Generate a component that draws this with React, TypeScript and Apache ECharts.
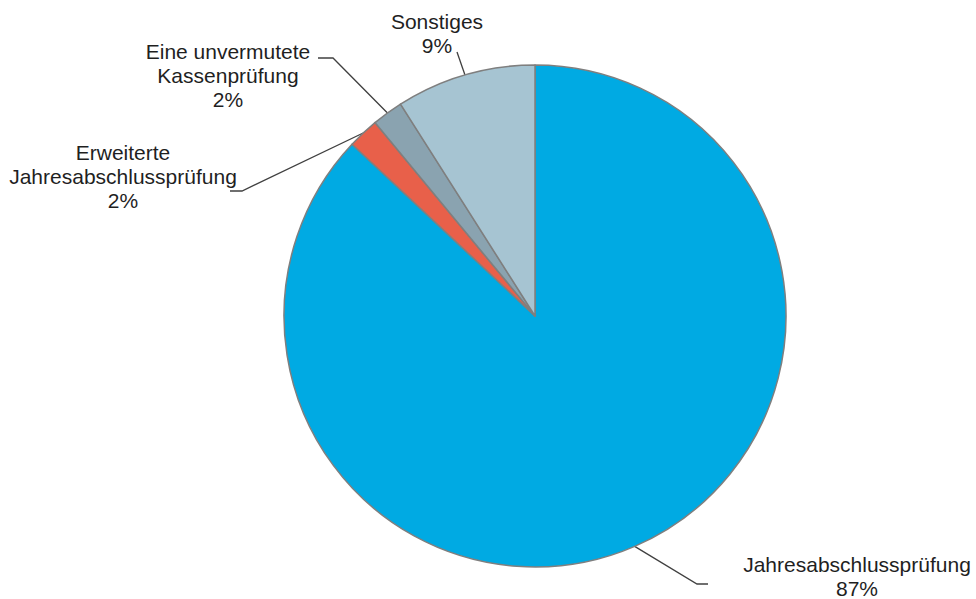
import React, { useEffect, useRef } from "react";
import * as echarts from "echarts";

const categories = [
  "Jahresabschlussprüfung",
  "Erweiterte\nJahresabschlussprüfung",
  "Eine unvermutete\nKassenprüfung",
  "Sonstiges",
];
const values = [87, 2, 2, 9];
const colors = ["#00AAE3", "#E8604A", "#8AA3B0", "#A6C4D2"];

// label layout (text centre, line elbow, line end) per slice
const labelPos = [
  { x: 857, y: 576, elbow: [697, 584], end: [708, 584] },
  { x: 123, y: 176, elbow: [242, 191], end: [230, 191] },
  { x: 228, y: 75, elbow: [333, 58], end: [318, 58] },
  { x: 437, y: 33, elbow: [457, 52], end: [457, 52] },
];

export default function App() {
  const ref = useRef<HTMLDivElement>(null);
  useEffect(() => {
    document.body.style.margin = "0";
    const chart = echarts.init(ref.current!, undefined, { renderer: "svg" });
    chart.setOption({
      animation: false,
      backgroundColor: "#ffffff",
      series: [
        {
          type: "pie",
          center: [535, 316],
          radius: 251,
          startAngle: 90,
          clockwise: true,
          avoidLabelOverlap: false,
          itemStyle: { borderColor: "#7F7F7F", borderWidth: 1.5 },
          label: {
            show: true,
            position: "outside",
            formatter: (p: any) => `${p.name}\n${p.value}%`,
            fontFamily: "Liberation Sans, Arial, sans-serif",
            fontSize: 21,
            lineHeight: 24,
            color: "#1F1F1F",
            align: "center",
          },
          labelLine: {
            show: true,
            lineStyle: { color: "#404040", width: 1.3 },
          },
          labelLayout: (params: any) => {
            const lp = labelPos[params.dataIndex];
            const start =
              params.labelLinePoints && params.labelLinePoints[0]
                ? params.labelLinePoints[0]
                : lp.elbow;
            return {
              x: lp.x,
              y: lp.y,
              align: "center",
              verticalAlign: "middle",
              labelLinePoints: [start, lp.elbow, lp.end],
            };
          },
          data: categories.map((c, i) => ({
            name: c,
            value: values[i],
            itemStyle: { color: colors[i] },
          })),
        },
      ],
    });
    return () => chart.dispose();
  }, []);
  return (
    <div
      ref={ref}
      style={{ position: "absolute", left: 0, top: 0, width: 976, height: 599 }}
    />
  );
}
